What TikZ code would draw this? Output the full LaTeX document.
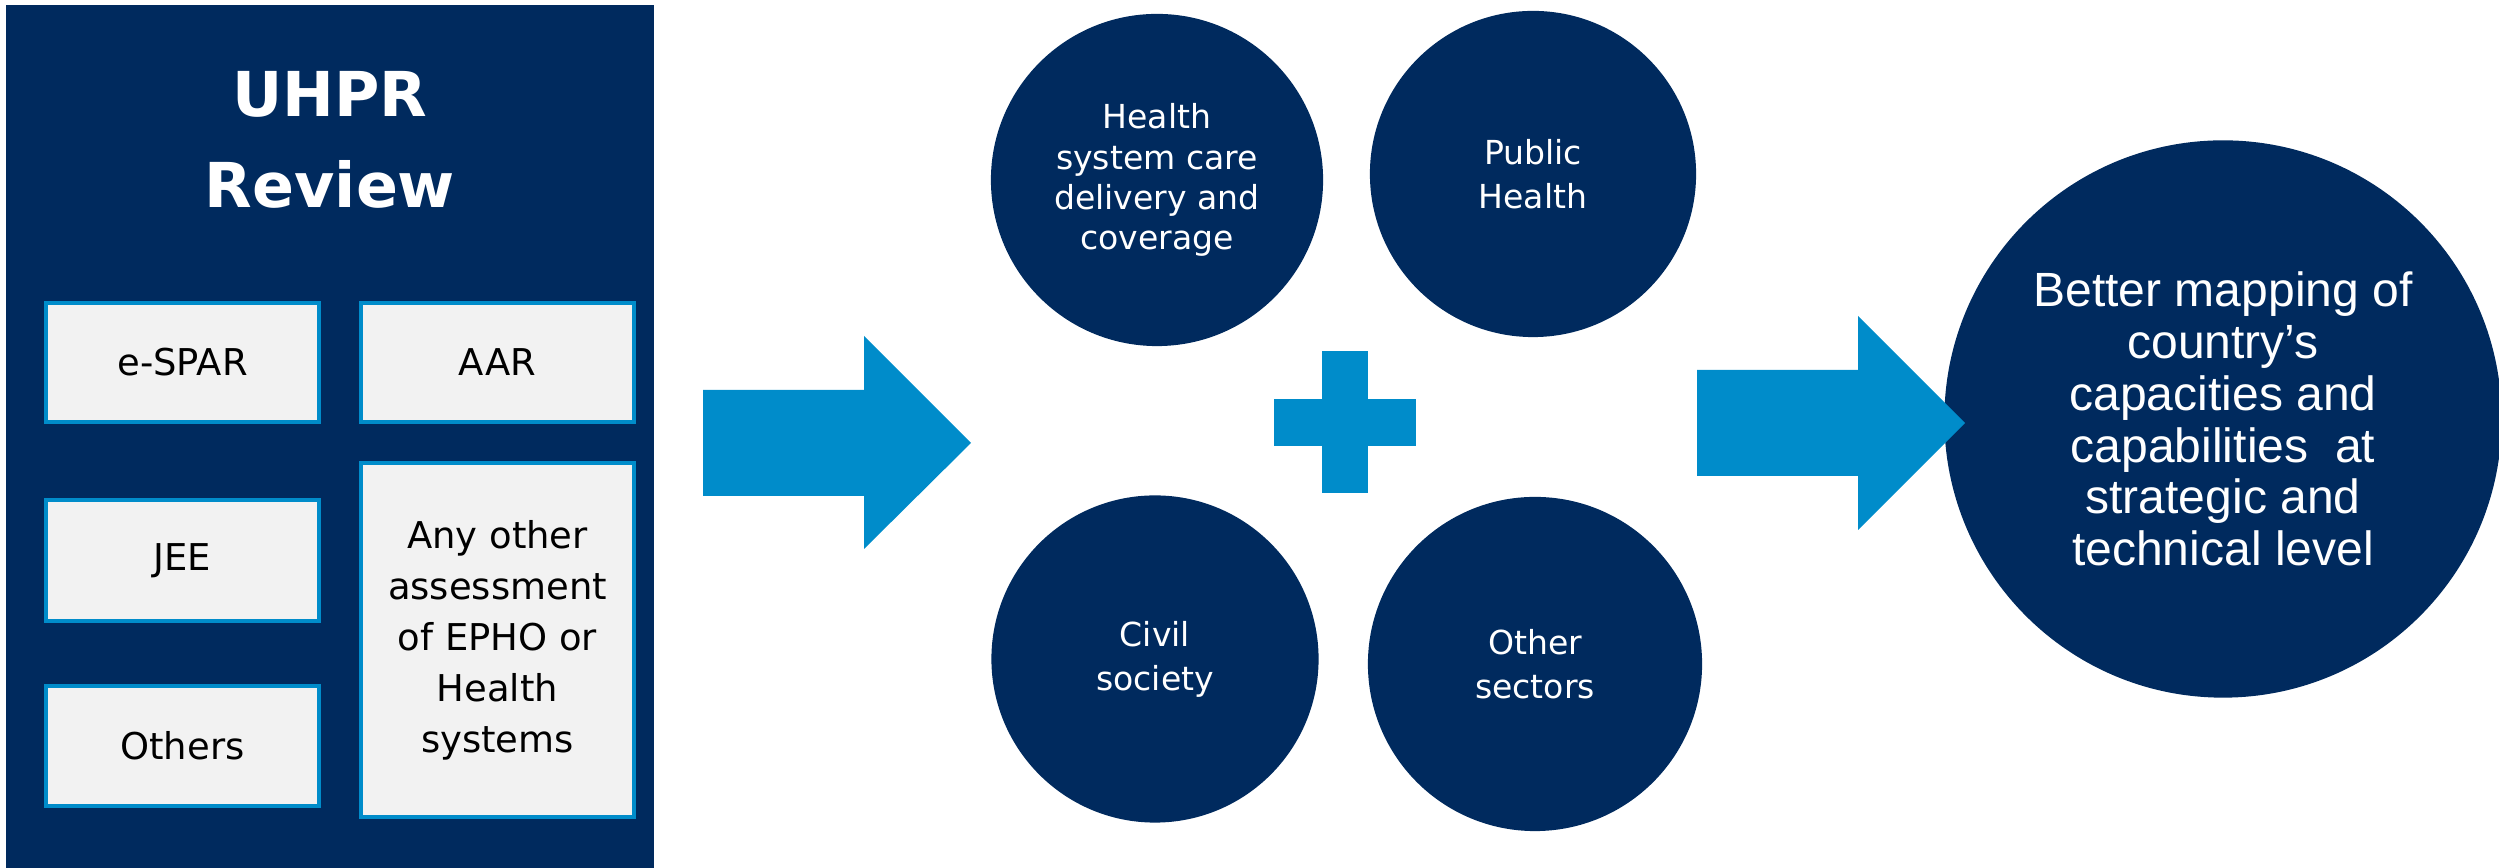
\documentclass[tikz,border=0pt]{standalone}
\usepackage{fontspec}
\usetikzlibrary{shapes.geometric}
\newfontfamily\tahfont{DejaVu Sans}
\newfontfamily\arifont{Liberation Sans}
\definecolor{navy}{RGB}{0,42,94}
\definecolor{sky}{RGB}{0,140,202}
\definecolor{boxgray}{RGB}{242,242,242}
\begin{document}
\begin{tikzpicture}[x=0.01cm,y=-0.01cm,
  panel/.style={fill=navy, draw=none, inner sep=0pt, minimum width=6.48cm, minimum height=8.70cm, anchor=north west},
  titletext/.style={text=white, inner sep=0pt, align=center, font=\tahfont\bfseries\fontsize{17.6pt}{25.9pt}\selectfont},
  asmt/.style={fill=boxgray, draw=sky, line width=1.14pt, inner sep=0pt, minimum width=2.73cm, text=black, align=center, font=\tahfont\fontsize{10.5pt}{14.5pt}\selectfont},
  area/.style={circle, fill=navy, draw=none, text=white, inner sep=0pt, align=center},
  smalltext/.style={font=\tahfont\fontsize{9.4pt}{12.5pt}\selectfont},
  blockarrow/.style={fill=sky, draw=none}
]
\useasboundingbox (0,0) rectangle (2499,868);

% left panel
\node[panel] (panel) at (5,4) {};
\node[titletext] (title) at (330,140) {UHPR\\Review};
\node[asmt, minimum height=1.19cm] (espar) at (182.5,362.5) {e-SPAR};
\node[asmt, minimum height=1.19cm] (aar) at (497.5,362.5) {AAR};
\node[asmt, minimum height=1.21cm] (jee) at (182.5,560.5) {JEE};
\node[asmt, minimum height=1.20cm] (others) at (182.5,746) {Others};
\node[asmt, minimum height=3.54cm] (anyother) at (497.5,640) {Any other\\assessment\\of EPHO or\\Health\\systems};

% first block arrow
\fill[blockarrow] (703,390) -- (864,390) -- (864,336) -- (971,443) -- (864,549) -- (864,496) -- (703,496) -- cycle;

% four circles
\node[area, minimum size=3.32cm, font=\tahfont\fontsize{9.4pt}{11.4pt}\selectfont] (hs) at (1157,180) {Health\\system care\\delivery and\\coverage};
\node[area, smalltext, minimum size=3.26cm] (ph) at (1533,174) {Public\\Health};
\node[area, smalltext, minimum size=3.27cm] (cs) at (1155,659) {Civil\\society};
\node[area, smalltext, minimum size=3.34cm] (os) at (1535,664) {Other\\sectors};

% plus sign
\fill[blockarrow] (1274,399) rectangle (1416,446);
\fill[blockarrow] (1322,351) rectangle (1368,493);

% outcome circle
\node[area, minimum size=5.57cm, font=\arifont\fontsize{13.66pt}{14.7pt}\selectfont] (out) at (2223,419) {Better mapping of\\country’s\\capacities and\\capabilities\ \ at\\strategic and\\technical level};

% second block arrow
\fill[blockarrow] (1697,370) -- (1858,370) -- (1858,316) -- (1965,423) -- (1858,530) -- (1858,476) -- (1697,476) -- cycle;
\end{tikzpicture}
\end{document}
